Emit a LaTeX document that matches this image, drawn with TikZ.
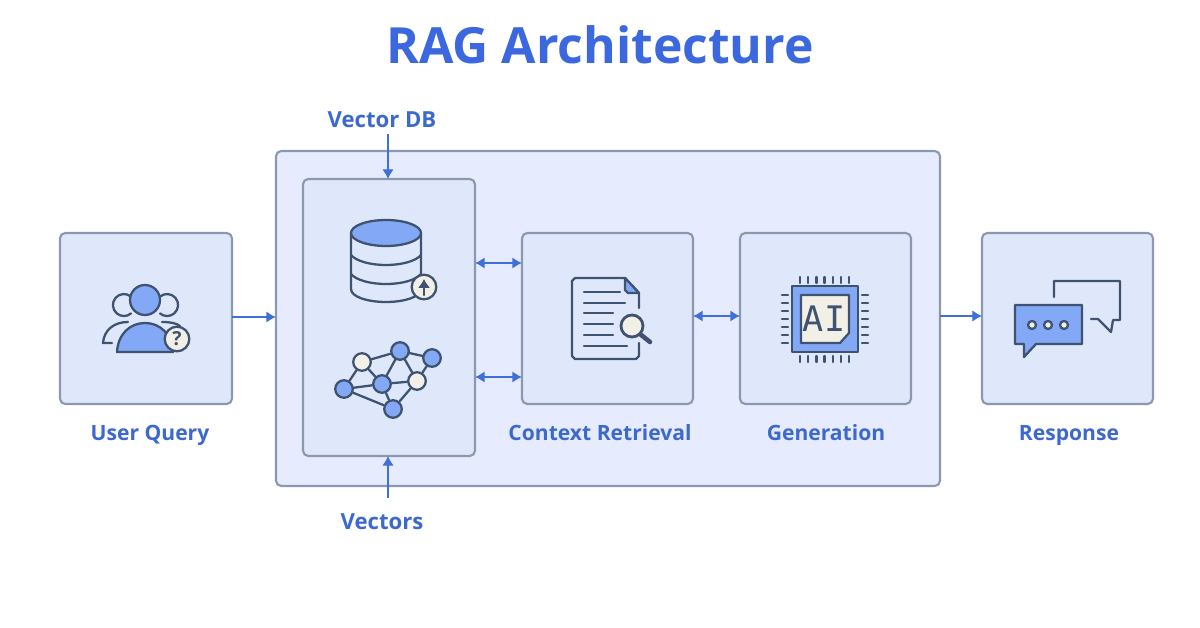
\documentclass[tikz,border=0pt]{standalone}
\usepackage{fontspec}
\setmainfont{Open Sans}
\newfontfamily\chipfont{DejaVu Sans Mono}
\usetikzlibrary{arrows.meta,calc,positioning}
\definecolor{titleblue}{HTML}{3B68DE}
\definecolor{labelblue}{HTML}{3D69CF}
\definecolor{arrowblue}{HTML}{3F6FD9}
\definecolor{outerfill}{HTML}{E6ECFD}
\definecolor{boxfill}{HTML}{DFE8FB}
\definecolor{boxline}{HTML}{8C98B0}
\definecolor{iconline}{HTML}{3F5270}
\definecolor{iconblue}{HTML}{82A8F6}
\definecolor{iconcream}{HTML}{F2F0E6}
\tikzset{
  panel/.style={draw=boxline,fill=boxfill,line width=1.2pt,rounded corners=3pt,inner sep=0pt},
  caption/.style={text=labelblue,anchor=base,font=\fontsize{12}{15}\selectfont\bfseries},
  flow/.style={draw=arrowblue,line width=1pt},
  thinflow/.style={draw=arrowblue,line width=0.7pt},
  icon/.style={draw=iconline,line width=1.3pt,line join=round,line cap=round},
  netdot/.style={circle,draw=iconline,line width=1.3pt,minimum size=10pt,inner sep=0pt},
}
\begin{document}
\begin{tikzpicture}[x=0.02cm,y=-0.02cm,>={Latex[length=5.5pt,width=6.5pt]}]
  \useasboundingbox (0,0) rectangle (1200,628);
  \fill[white] (0,0) rectangle (1200,628);

  % Title
  \node[text=titleblue,font=\fontsize{28.4}{34}\selectfont\bfseries] (title) at (600,45) {RAG Architecture};

  % Boxes
  \node[panel,fill=outerfill,minimum width=664*0.02cm,minimum height=335*0.02cm] (outerbox) at (608,318.5) {};
  \node[panel,minimum width=172*0.02cm,minimum height=171*0.02cm] (userbox) at (146,318.5) {};
  \node[panel,minimum width=172*0.02cm,minimum height=277*0.02cm] (dbbox) at (389,317.5) {};
  \node[panel,minimum width=171*0.02cm,minimum height=171*0.02cm] (contextbox) at (607.5,318.5) {};
  \node[panel,minimum width=171*0.02cm,minimum height=171*0.02cm] (genbox) at (825.5,318.5) {};
  \node[panel,minimum width=171*0.02cm,minimum height=171*0.02cm] (responsebox) at (1067.5,318.5) {};

  % Labels
  \node[caption] (userlabel) at (150,440) {User Query};
  \node[caption] (contextlabel) at (600,440) {Context Retrieval};
  \node[caption] (genlabel) at (826,440) {Generation};
  \node[caption] (responselabel) at (1069,440) {Response};
  \node[caption,font=\fontsize{12.6}{15}\selectfont\bfseries] (dblabel) at (382,128) {Vector DB};
  \node[caption,font=\fontsize{12.6}{15}\selectfont\bfseries] (vectorslabel) at (382,529) {Vectors};

  % Connector ends
  \coordinate (dbtop) at (388,134);
  \coordinate (dbin) at (388,179);
  \coordinate (vecbottom) at (388,498);
  \coordinate (vecin) at (388,456);
  \coordinate (dbup) at (475,263);
  \coordinate (ctxup) at (522,263);
  \coordinate (dblow) at (475,377);
  \coordinate (ctxlow) at (522,377);
  \coordinate (ctxmid) at (693,316);
  \coordinate (genmid) at (740,316);
  \coordinate (userout) at (232,317);
  \coordinate (outerin) at (276,317);
  \coordinate (outerout) at (940,316);
  \coordinate (respin) at (982,316);

  % Connectors
  \draw[flow,->] (userout) -- (outerin);
  \draw[thinflow,->] (outerout) -- (respin);
  \draw[thinflow,->] (dbtop) -- (dbin);
  \draw[thinflow,->] (vecbottom) -- (vecin);
  \draw[flow,<->] (dbup) -- (ctxup);
  \draw[flow,<->] (dblow) -- (ctxlow);
  \draw[flow,<->] (ctxmid) -- (genmid);

  % User icon
  \draw[icon] (131,296.6) arc (-50:-310:11);
  \draw[icon] (160,296.6) arc (230:490:11);
  \draw[icon] (112,343) -- (103,343) .. controls (104,330) and (114,322) .. (128,322);
  \draw[icon] (162,322) .. controls (170,322) and (176,323) .. (180,326);
  \draw[icon,fill=iconblue] (117,352) .. controls (118,334) and (130,323) .. (145,323) .. controls (160,323) and (172,334) .. (173,352) -- cycle;
  \draw[icon,fill=iconblue] (145,300) circle (15);
  \node[netdot,fill=iconcream,minimum size=14pt,font=\fontsize{11}{11}\selectfont\bfseries,text=iconline] (userbadge) at (177,339) {?};

  % Database icon
  \draw[icon,fill=boxfill] (351,233) -- (351,289) .. controls (351,297) and (368,302) .. (386,302) .. controls (404,302) and (421,297) .. (421,289) -- (421,233);
  \draw[icon] (351,255) .. controls (356,261) and (370,265) .. (386,265) .. controls (402,265) and (416,261) .. (421,255);
  \draw[icon] (351,274) .. controls (356,280) and (370,284) .. (386,284) .. controls (402,284) and (416,280) .. (421,274);
  \draw[icon,fill=iconblue] (386,233) ellipse (35 and 13);
  \node[netdot,fill=iconcream,minimum size=14pt] (dbbadge) at (424,287) {};
  \draw[icon,->,>={Latex[length=5pt,width=7pt]}] (424,295) -- (424,279);

  % Network icon
  \foreach \name/\px/\py/\tone in {na/344/389/iconblue,nb/362/362/iconcream,nc/400/351/iconblue,nd/432/358/iconblue,ne/382/384/iconblue,nf/417/381/iconcream,ng/393/409/iconblue} {
    \node[netdot,fill=\tone] (\name) at (\px,\py) {};
  }
  \foreach \from/\to in {na/nb,na/ne,na/ng,nb/nc,nb/ne,nc/ne,nc/nd,nc/nf,nd/nf,ne/nf,ne/ng,nf/ng} {
    \draw[icon] (\from) -- (\to);
  }

  % Document icon
  \draw[icon] (639,308) -- (639,293) -- (625,278) -- (575,278) -- (572,281) -- (572,356) -- (575,359) -- (636,359) -- (639,356) -- (639,343);
  \draw[icon,fill=iconblue] (625,278) -- (639,293) -- (628,293) -- (625,290) -- cycle;
  \foreach \ly/\lx in {292/620,303/625,313/613,324/613,335/613,346/627} {
    \draw[icon] (584,\ly) -- (\lx,\ly);
  }
  \draw[icon,line width=2.6pt] (640,334) -- (650,342);
  \draw[icon,line width=1.6pt,fill=iconcream] (632,326) circle (11);

  % Chip icon
  \foreach \pin in {0,...,6} {
    \draw[icon] ($(800,277)+(\pin*8.2,0)$) -- ++(0,6);
    \draw[icon] ($(800,356)+(\pin*8.2,0)$) -- ++(0,6);
    \draw[icon] ($(782,295)+(0,\pin*8)$) -- ++(6,0);
    \draw[icon] ($(862,295)+(0,\pin*8)$) -- ++(6,0);
  }
  \draw[icon,fill=iconblue] (792,286) rectangle (858,352);
  \draw[icon,fill=iconcream] (801,295) -- (849,295) -- (849,333) -- (840,343) -- (801,343) -- cycle;
  \node[text=iconline,font=\chipfont\fontsize{20}{20}\selectfont] (chiptext) at (824,319) {AI};

  % Chat icon
  \draw[icon] (1054,297) -- (1054,281) -- (1120,281) -- (1120,320) -- (1113,320) -- (1111,332) -- (1098,319) -- (1091,319);
  \draw[icon,fill=iconblue] (1015,305) -- (1082,305) -- (1082,344) -- (1036,344) -- (1024,357) -- (1024,344) -- (1015,344) -- cycle;
  \foreach \dx in {1032,1048,1064} {
    \draw[icon,fill=iconcream] (\dx,325) circle (4);
  }
\end{tikzpicture}
\end{document}
